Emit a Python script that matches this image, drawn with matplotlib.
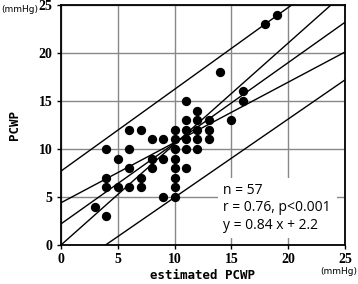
import matplotlib.pyplot as plt

# scatter points (estimated PCWP, PCWP); overlapping points are hidden
est = [6, 7, 8, 9, 4, 6, 5, 8, 9, 6, 8, 4, 7, 4, 5, 6, 7, 9, 3, 4,
       11, 12, 11, 12, 13, 10, 11, 12, 13, 10, 11, 12, 13, 10, 11, 12,
       10, 10, 11, 10, 10, 10,
       19, 18, 14, 16, 16, 15]
pcwp = [12, 12, 11, 11, 10, 10, 9, 9, 9, 8, 8, 7, 7, 6, 6, 6, 6, 5, 4, 3,
        15, 14, 13, 13, 13, 12, 12, 12, 12, 11, 11, 11, 11, 10, 10, 10,
        9, 8, 8, 7, 6, 5,
        24, 23, 18, 16, 15, 13]

# lines given by their values at x = 0 and x = 25
line_x = [0, 25]
regression = [2.2, 23.2]
slope_hi = [0.0, 26.3]
slope_lo = [4.4, 20.1]
pred_hi = [7.7, 29.0]
pred_lo = [-3.2, 17.2]

ticks = [0, 5, 10, 15, 20, 25]

fig = plt.figure(figsize=(3.58, 2.84), dpi=100)
ax = fig.add_axes([61 / 358, 39 / 284, 284 / 358, 240 / 284])

for yy in [regression, slope_hi, slope_lo, pred_hi, pred_lo]:
    ax.plot(line_x, yy, color='black', lw=1.0, zorder=2)
ax.scatter(est, pcwp, s=45, color='black', zorder=3, linewidths=0)

ax.set_xlim(0, 25)
ax.set_ylim(0, 25)
ax.set_xticks(ticks)
ax.set_yticks(ticks)
ax.grid(True, color='#888888', lw=1.0, zorder=1)
ax.set_axisbelow(True)
for s in ax.spines.values():
    s.set_linewidth(1.3)
ax.tick_params(length=3, width=1, pad=3)
for lab in ax.get_xticklabels() + ax.get_yticklabels():
    lab.set_fontfamily('Liberation Serif')
    lab.set_fontweight('bold')
    lab.set_fontsize(10)

ax.set_xlabel('estimated PCWP', family='DejaVu Sans Mono', fontsize=9,
              fontweight='bold', labelpad=2)
ax.set_ylabel('PCWP', family='DejaVu Sans Mono', fontsize=9, fontweight='bold', labelpad=13)

fig.text(1 / 358, 1 - 9 / 284, '(mmHg)', fontsize=6.5, family='DejaVu Sans', va='center')
fig.text(357 / 358, 1 - 271 / 284, '(mmHg)', fontsize=6.5, family='DejaVu Sans',
         ha='right', va='center')

ax.text(14.3, 1.3, 'n = 57\nr = 0.76, p<0.001\ny = 0.84 x + 2.2',
        fontsize=10, family='Open Sans', linespacing=1.2, va='bottom',
        bbox=dict(facecolor='white', edgecolor='none', pad=4), zorder=4)

fig.savefig('out.png', dpi=100)
